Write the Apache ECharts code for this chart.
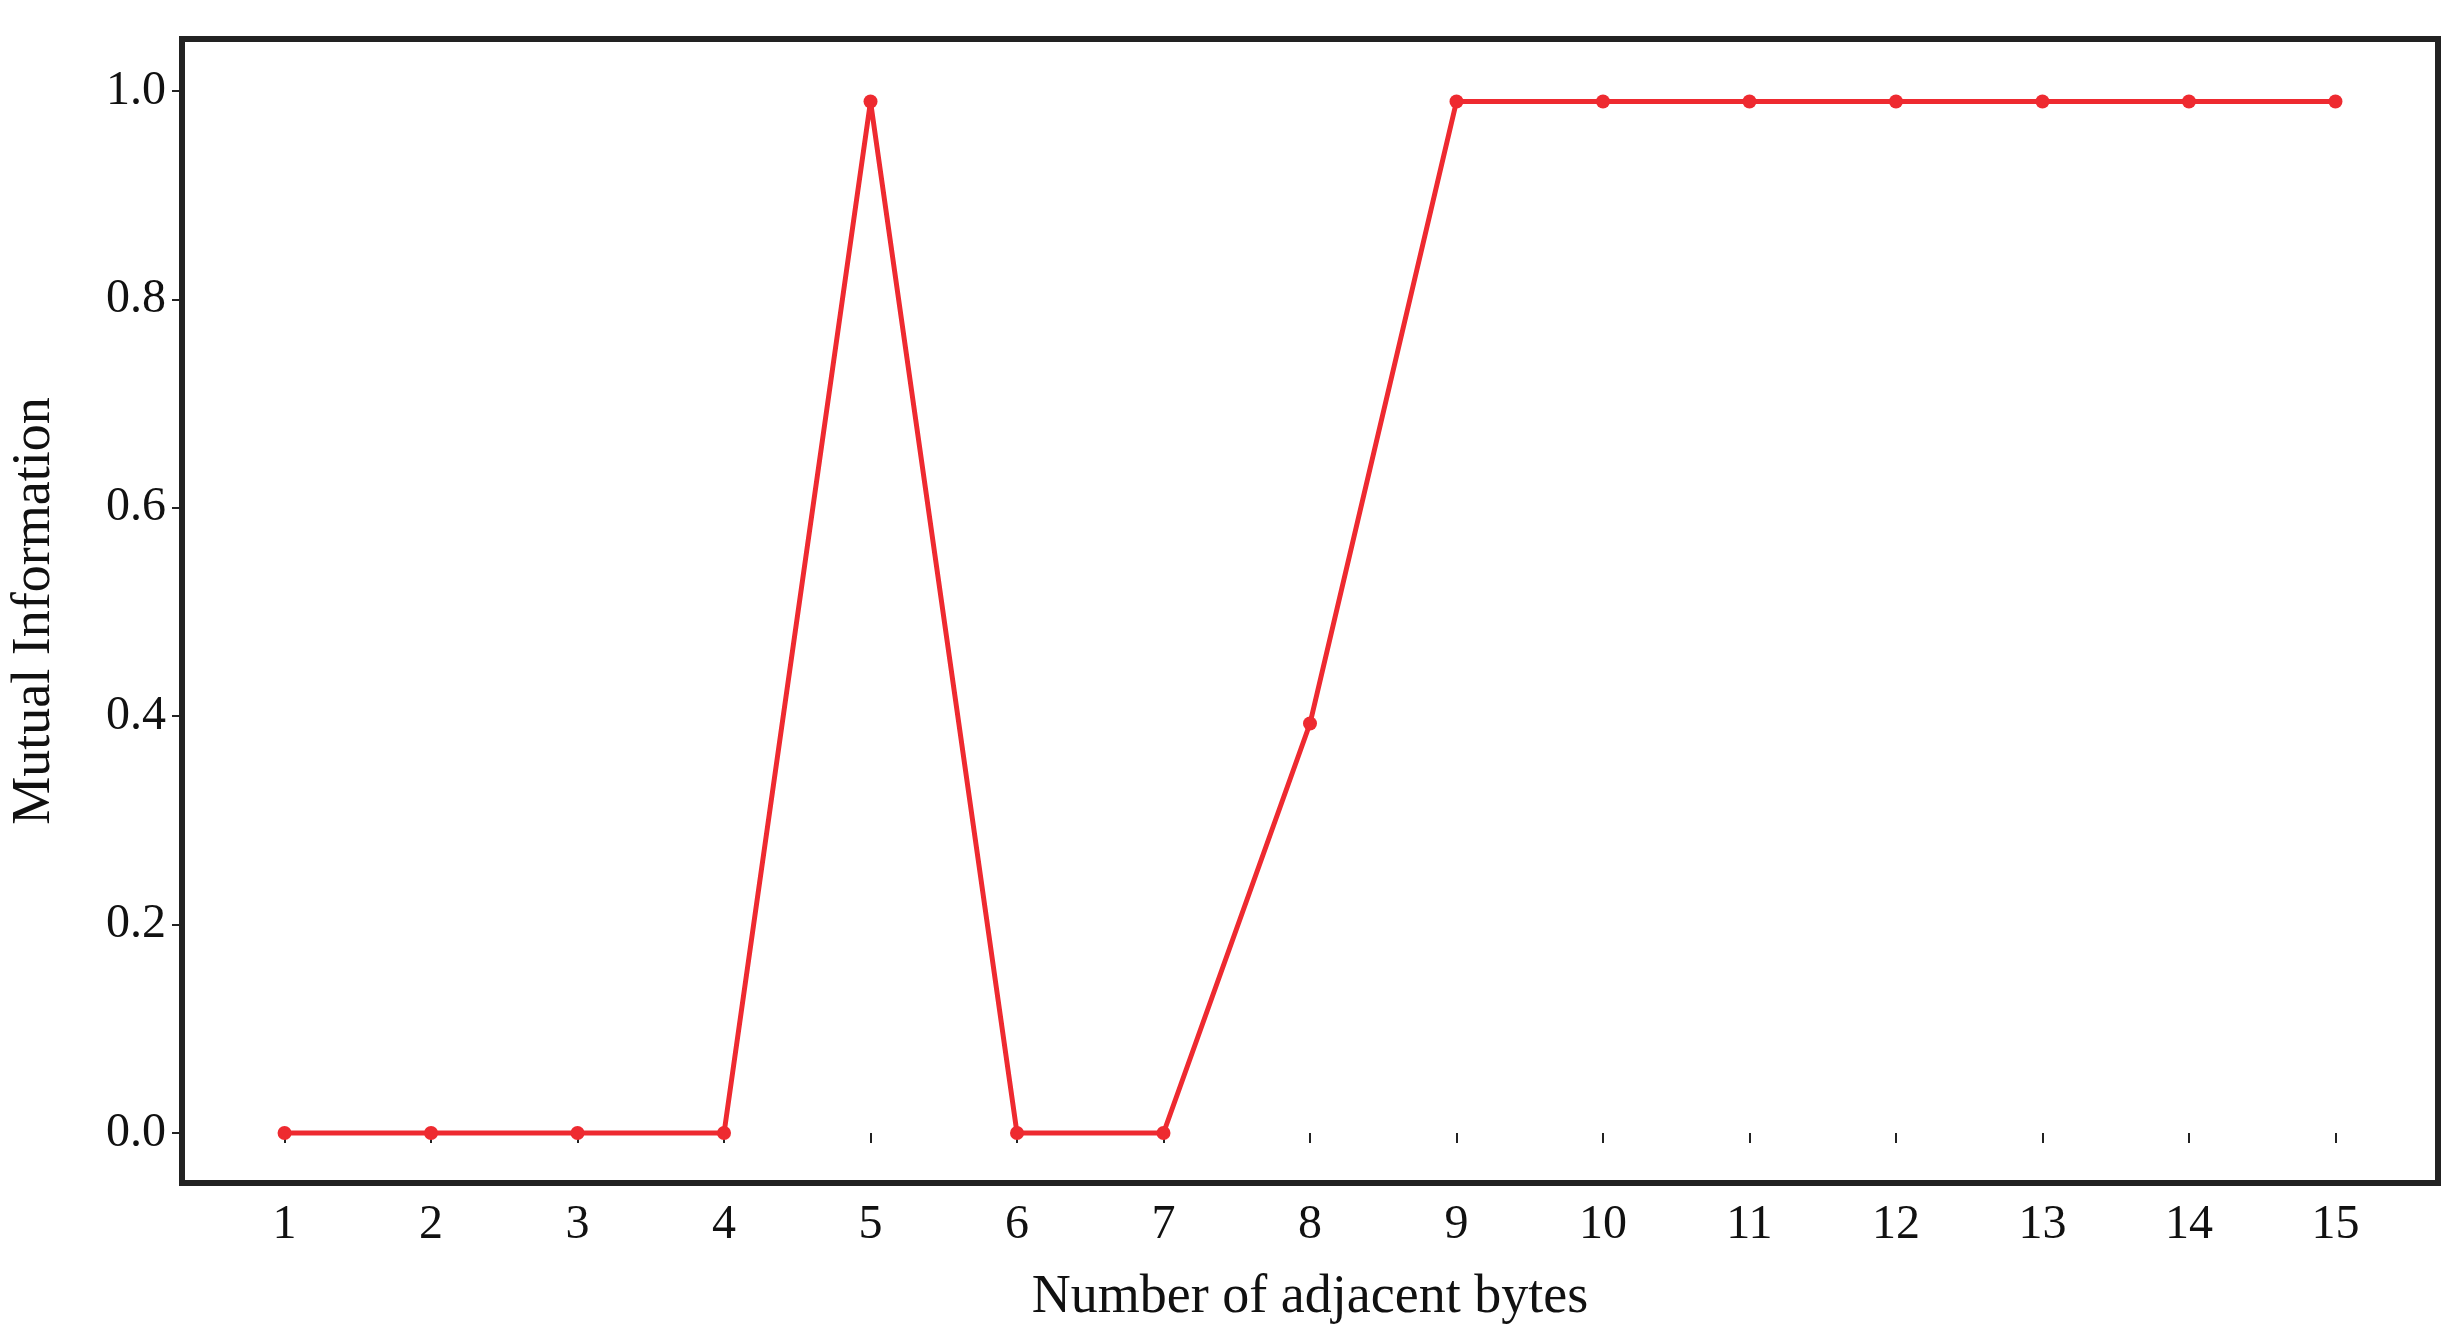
<!DOCTYPE html>
<html>
<head>
<meta charset="utf-8">
<script src="https://cdn.jsdelivr.net/npm/echarts@6/dist/echarts.min.js"></script>
<style>html,body{margin:0;background:#fff}#chart{width:2454px;height:1339px}</style>
</head>
<body>
<div id="chart"></div>
<script>
var bytes = [1, 2, 3, 4, 5, 6, 7, 8, 9, 10, 11, 12, 13, 14, 15];
var mutualInfo = [0, 0, 0, 0, 0.99, 0, 0, 0.393, 0.99, 0.99, 0.99, 0.99, 0.99, 0.99, 0.99];
var yTicks = [0, 0.2, 0.4, 0.6, 0.8, 1.0];

var chart = echarts.init(document.getElementById('chart'));
var font = 'Liberation Serif';
chart.setOption({
    animation: false,
    grid: {left: 181, right: 16, top: 39, bottom: 156, show: true, borderColor: '#222', borderWidth: 6},
    xAxis: {
        type: 'value', min: 0.3, max: 15.7,
        name: 'Number of adjacent bytes', nameLocation: 'middle', nameGap: 88,
        nameTextStyle: {fontFamily: font, fontSize: 54, color: '#111'},
        axisLine: {show: false},
        splitLine: {show: false},
        axisTick: {show: true, length: 10, customValues: bytes, lineStyle: {color: '#222', width: 2}},
        axisLabel: {customValues: bytes, fontFamily: font, fontSize: 48, color: '#111', margin: 18}
    },
    yAxis: {
        type: 'value', min: -0.048, max: 1.05,
        name: 'Mutual Information', nameLocation: 'middle', nameGap: 120,
        nameTextStyle: {fontFamily: font, fontSize: 54, color: '#111'},
        axisLine: {show: false},
        splitLine: {show: false},
        axisTick: {show: true, length: 10, customValues: yTicks, lineStyle: {color: '#222', width: 2}},
        axisLabel: {customValues: yTicks, fontFamily: font, fontSize: 48, color: '#111', margin: 16,
            formatter: function (v) { return v.toFixed(1); }}
    },
    series: [{
        type: 'line',
        data: bytes.map(function (b, i) { return [b, mutualInfo[i]]; }),
        symbol: 'circle', symbolSize: 14,
        lineStyle: {color: '#ee2a30', width: 5},
        itemStyle: {color: '#ee2a30'}
    }]
});
</script>
</body>
</html>
